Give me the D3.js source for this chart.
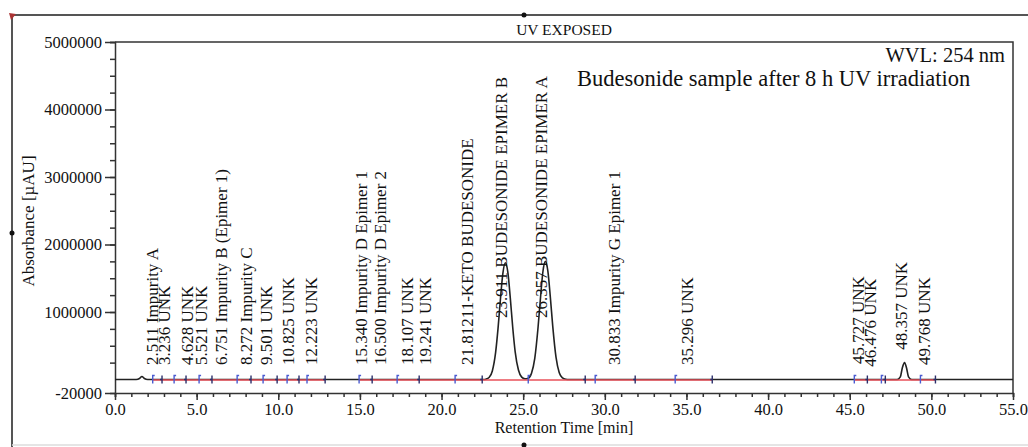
<!DOCTYPE html>
<meta charset="utf-8">
<title>UV exposed chromatogram</title>
<style>
body { margin: 0; background: #fff; }
svg { display: block; }
text { font-family: "Liberation Serif", "Times New Roman", serif; fill: #111; }
.axis path, .axis line { stroke: #333; stroke-width: 1.5; }
.axis text { font-size: 16.5px; }
</style>
<body>
<script src="https://cdn.jsdelivr.net/npm/d3@7"></script>
<script>

// chromatogram trace (time in min, signal in µAU)
var traceTimes = [0, 1.3, 1.5, 1.65, 1.8, 2.0,
  22.6, 22.71, 22.91, 23.11, 23.31, 23.46, 23.61, 23.76, 23.911, 24.06, 24.21, 24.36, 24.51, 24.71, 24.91, 25.11,
  25.31, 25.51, 25.71, 25.91, 26.06, 26.21, 26.357, 26.51, 26.66, 26.81, 27.01, 27.21, 27.41, 27.61, 27.8,
  47.9, 48.1, 48.22, 48.357, 48.48, 48.6, 48.8, 55];
var traceValues = [0, 0, 15000, 45000, 15000, 0,
  0, 5000, 29000, 127000, 397000, 757000, 1200000, 1580000, 1730000, 1590000, 1210000, 770000, 410000, 140000, 35000, 10000,
  18000, 92000, 312000, 770000, 1210000, 1600000, 1750000, 1610000, 1230000, 790000, 330000, 100000, 24000, 4000, 0,
  0, 40000, 170000, 250000, 170000, 40000, 0, 0];

// peak table
var peakTimes = [2.511, 3.236, 4.628, 5.521, 6.751, 8.272, 9.501, 10.825, 12.223, 15.340, 16.500, 18.107, 19.241,
  21.812, 23.911, 26.357, 30.833, 35.296, 45.727, 46.476, 48.357, 49.768];
var peakLabels = ["2.511 Impurity A", "3.236 UNK", "4.628 UNK", "5.521 UNK", "6.751 Impurity B (Epimer 1)",
  "8.272 Impurity C", "9.501 UNK", "10.825 UNK", "12.223 UNK", "15.340 Impurity D Epimer 1",
  "16.500 Impurity D Epimer 2", "18.107 UNK", "19.241 UNK", "21.81211-KETO BUDESONIDE",
  "23.911 BUDESONIDE EPIMER B", "26.357 BUDESONIDE EPIMER A", "30.833 Impurity G Epimer 1", "35.296 UNK",
  "45.727 UNK", "46.476 UNK", "48.357 UNK", "49.768 UNK"];
// signal level where each label starts (µAU)
var labelLevels = [215000, 215000, 215000, 215000, 215000, 215000, 215000, 215000, 215000, 215000, 215000, 215000, 215000,
  215000, 910000, 910000, 215000, 215000, 230000, 190000, 440000, 215000];

// integration delimiters and baseline segments
var delimiterTimes = [2.31, 2.88, 3.62, 4.35, 5.15, 5.94, 7.48, 8.33, 9.07, 9.93, 10.54, 11.27, 11.76, 12.87,
  14.95, 15.75, 17.28, 18.63, 20.83, 22.49, 25.31, 28.80, 29.41, 31.86, 34.31, 36.58,
  45.28, 46.08, 46.94, 47.18, 49.33, 50.25];
var baselineStarts = [2.31, 14.95, 45.28];
var baselineEnds = [12.87, 36.58, 50.25];

var yTickValues = [-20000, 1000000, 2000000, 3000000, 4000000, 5000000];

var W = 1028, H = 447;
var margin = {top: 42, right: 15, bottom: 54, left: 115},
    width = W - margin.left - margin.right,
    height = H - margin.top - margin.bottom;

var svg = d3.select("body").append("svg")
    .attr("width", W)
    .attr("height", H);

// outer frame of the report page
svg.append("line").attr("x1", 12).attr("y1", 15).attr("x2", W).attr("y2", 15)
    .attr("stroke", "#555").attr("stroke-width", 2);
svg.append("line").attr("x1", 12).attr("y1", 15).attr("x2", 12).attr("y2", H)
    .attr("stroke", "#555").attr("stroke-width", 2);
svg.append("line").attr("x1", 12).attr("y1", H - 2).attr("x2", W).attr("y2", H - 2)
    .attr("stroke", "#ddd").attr("stroke-width", 1.5);
svg.append("path").attr("d", "M9,13 L16,14 L11,20 Z").attr("fill", "#a33");
[[12, 233], [524, 15], [524, 445]].forEach(function(p) {
  svg.append("circle").attr("cx", p[0]).attr("cy", p[1]).attr("r", 2.5).attr("fill", "#111");
});

var g = svg.append("g")
    .attr("transform", "translate(" + margin.left + "," + margin.top + ")");

var x = d3.scaleLinear().domain([0, 55]).range([0, width]);
// the Chromeleon axis puts a short offset below zero
var y = d3.scaleLinear().domain([-20000, 0, 5000000]).range([height, height - 13.5, 0]);

// plot frame (top and right)
g.append("path")
    .attr("d", "M0,0 H" + width + " V" + height)
    .attr("fill", "none").attr("stroke", "#333").attr("stroke-width", 1.5);

// x axis, minor then major ticks
g.append("g").attr("class", "axis")
    .attr("transform", "translate(0," + height + ")")
    .call(d3.axisBottom(x).tickValues(d3.range(0, 56, 1)).tickSize(4).tickFormat(""));
g.append("g").attr("class", "axis")
    .attr("transform", "translate(0," + height + ")")
    .call(d3.axisBottom(x).tickValues(d3.range(0, 56, 5)).tickSize(7).tickPadding(3).tickFormat(d3.format(".1f")))
    .select(".domain").remove();

// y axis
g.append("g").attr("class", "axis")
    .call(d3.axisLeft(y).tickValues(d3.range(250000, 5000001, 250000)).tickSize(5).tickFormat(""));
g.append("g").attr("class", "axis")
    .call(d3.axisLeft(y).tickValues(yTickValues).tickSize(10).tickPadding(3)
      .tickFormat(function(d) { return String(d); }))
    .select(".domain").remove();

// axis titles
g.append("text")
    .attr("x", width / 2).attr("y", height + 40)
    .attr("text-anchor", "middle").style("font-size", "16px")
    .text("Retention Time [min]");
g.append("text")
    .attr("transform", "translate(" + (34 - margin.left) + "," + (221 - margin.top) + ") rotate(-90)")
    .attr("text-anchor", "middle").style("font-size", "17px")
    .text("Absorbance [µAU]");

// titles
g.append("text")
    .attr("x", width / 2).attr("y", -7)
    .attr("text-anchor", "middle").style("font-size", "15.5px")
    .text("UV EXPOSED");
g.append("text")
    .attr("x", width - 8).attr("y", 19.5)
    .attr("text-anchor", "end").style("font-size", "20.5px")
    .text("WVL: 254 nm");
g.append("text")
    .attr("x", 462).attr("y", 44)
    .attr("text-anchor", "start").style("font-size", "22.5px")
    .text("Budesonide sample after 8 h UV irradiation");

// signal trace
var line = d3.line()
    .x(function(d, i) { return x(traceTimes[i]); })
    .y(function(d) { return y(d); })
    .curve(d3.curveMonotoneX);

g.append("path")
    .datum(traceValues)
    .attr("fill", "none")
    .attr("stroke", "#222")
    .attr("stroke-width", 1.6)
    .attr("d", line);

// integration baselines
g.selectAll(".baseline")
    .data(baselineStarts)
  .enter().append("line")
    .attr("class", "baseline")
    .attr("x1", function(d) { return x(d); })
    .attr("x2", function(d, i) { return x(baselineEnds[i]); })
    .attr("y1", y(0) + 0.5)
    .attr("y2", y(0) + 0.5)
    .attr("stroke", "#e8505a")
    .attr("stroke-width", 1.3);

// peak delimiters
g.selectAll(".delim")
    .data(delimiterTimes)
  .enter().append("path")
    .attr("class", "delim")
    .attr("d", function(d, i) {
      var px = x(d), py = y(0);
      return i % 2 === 0
        ? "M" + px + "," + (py + 4) + " V" + (py - 4) + " h2"
        : "M" + px + "," + (py - 4) + " V" + (py + 4) + " M" + px + "," + py + " h-2";
    })
    .attr("fill", "none")
    .attr("stroke", function(d, i) { return i % 2 === 0 ? "#4a5bd0" : "#2c2f6a"; })
    .attr("stroke-width", 1.4);

// peak labels
g.selectAll(".peak-label")
    .data(peakTimes)
  .enter().append("text")
    .attr("class", "peak-label")
    .attr("transform", function(d, i) {
      return "translate(" + (x(d) + 2) + "," + y(labelLevels[i]) + ") rotate(-90)";
    })
    .style("font-size", "17px")
    .text(function(d, i) { return peakLabels[i]; });

</script>
</body>
